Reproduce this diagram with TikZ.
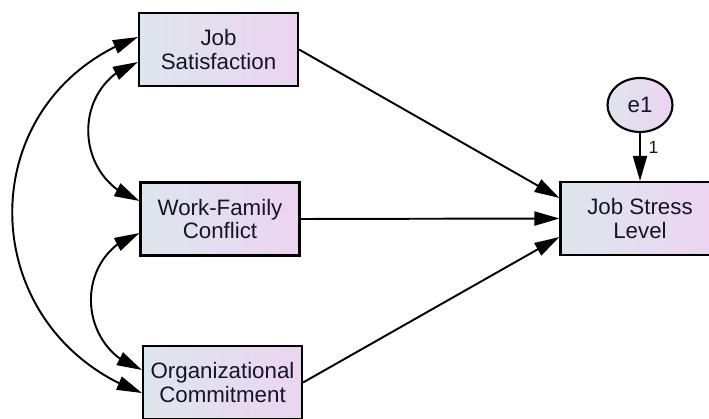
\documentclass[tikz,border=0pt]{standalone}
\usepackage{fontspec}
\setmainfont{Liberation Sans}
\usepackage{tikz}
\usetikzlibrary{arrows.meta,bending,shapes.geometric}
\definecolor{varleft}{RGB}{222,230,237}
\definecolor{varright}{RGB}{236,212,241}
\definecolor{vartext}{RGB}{20,20,45}

\begin{document}
\begin{tikzpicture}[
  obs/.style={draw,line width=1.2pt,left color=varleft,right color=varright,minimum width=3.18cm,minimum height=1.46cm,inner sep=0pt,align=center,text=vartext,font=\fontsize{12.7}{13.5}\selectfont},
  err/.style={draw,ellipse,line width=1.2pt,left color=varleft,right color=varright,minimum width=1.3cm,minimum height=1.08cm,inner sep=0pt,text=vartext,font=\fontsize{12.7}{13.5}\selectfont},
  arr/.style={-{Triangle[length=0.5cm,width=0.28cm]},line width=1.1pt},
  cov/.style={{Triangle[length=0.5cm,width=0.28cm]}-{Triangle[length=0.5cm,width=0.28cm]},line width=1.1pt,looseness=1.3},
  wlabel/.style={font=\fontsize{10}{12}\selectfont,text=vartext},
]
  \useasboundingbox (0,0) rectangle (14.18,8.38);

  % Predictors
  \node[obs] (js)  at (4.37,7.39) {Job\\Satisfaction};
  \node[obs] (wfc) at (4.40,4.00) {Work-Family\\Conflict};
  \node[obs] (oc)  at (4.45,0.73) {Organizational\\Commitment};

  % Outcome and its error term
  \node[obs] (jsl) at (12.80,4.01) {Job Stress\\Level};
  \node[err] (e1)  at (12.80,6.28) {e1};

  % Regression paths
  \draw[arr] (js.east) -- ([yshift=0.41cm]jsl.west);
  \draw[arr] (wfc.east) -- (jsl.west);
  \draw[arr] (oc.east) -- ([yshift=-0.37cm]jsl.west);
  \draw[arr] (e1.south) -- node[right,wlabel,pos=0.3,xshift=1pt]{1} (jsl.north);

  % Covariances
  \draw[cov] ([yshift=0.25cm]js.west) to[out=200,in=160] ([yshift=-0.21cm]oc.west);
  \draw[cov] ([yshift=-0.25cm]js.west) to[out=198,in=162] ([yshift=0.36cm]wfc.west);
  \draw[cov] ([yshift=-0.28cm]wfc.west) to[out=198,in=162] ([yshift=0.25cm]oc.west);
\end{tikzpicture}
\end{document}
